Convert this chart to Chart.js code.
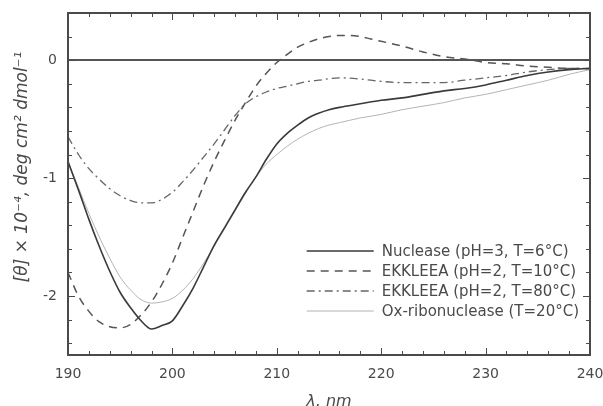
<!DOCTYPE html>
<html>
<head>
<meta charset="utf-8">
<script src="https://cdn.jsdelivr.net/npm/chart.js@4/dist/chart.umd.min.js"></script>
<style>
  html, body { margin: 0; padding: 0; background: #fff; }
  #wrap { width: 603px; height: 406px; }
</style>
</head>
<body>
<div id="wrap"><canvas id="cd"></canvas></div>
<script>
// CD spectra, mean residue ellipticity vs wavelength
const nucleaseWl = [190, 191, 192, 193, 194, 195, 196, 197, 198, 199, 200, 201, 202, 203, 204, 205, 206, 207, 208, 209, 210,
  211, 212, 213, 214, 215, 216, 218, 220, 222, 224, 226, 228, 230, 232, 234, 236, 238, 240];
const nucleaseTheta = [-0.86, -1.1, -1.35, -1.58, -1.79, -1.97, -2.1, -2.21, -2.28, -2.25, -2.21, -2.08, -1.93, -1.75, -1.57,
  -1.42, -1.27, -1.12, -0.99, -0.84, -0.71, -0.62, -0.55, -0.49, -0.45, -0.42, -0.40, -0.37, -0.34, -0.32, -0.29,
  -0.26, -0.24, -0.21, -0.17, -0.13, -0.10, -0.08, -0.07];

const ekk10Wl = [190, 191, 192, 193, 194, 195, 196, 197, 198, 199, 200, 201, 202, 203, 204, 205, 206, 207, 208, 209, 210,
  211, 212, 213, 214, 215, 216, 217, 218, 219, 220, 222, 224, 226, 228, 230, 232, 234, 236, 238, 240];
const ekk10Theta = [-1.80, -2.0, -2.13, -2.22, -2.26, -2.27, -2.24, -2.16, -2.05, -1.90, -1.72, -1.50, -1.28, -1.06, -0.86,
  -0.68, -0.51, -0.36, -0.22, -0.11, -0.02, 0.05, 0.11, 0.15, 0.18, 0.20, 0.21, 0.21, 0.20, 0.18, 0.16, 0.12, 0.07,
  0.03, 0.01, -0.02, -0.03, -0.05, -0.06, -0.07, -0.07];

const ekk80Wl = [190, 191, 192, 193, 194, 195, 196, 197, 198, 199, 200, 201, 202, 203, 204, 205, 206, 207, 208, 209, 210,
  211, 212, 213, 214, 216, 218, 220, 222, 224, 226, 228, 230, 232, 234, 236, 238, 240];
const ekk80Theta = [-0.65, -0.80, -0.92, -1.01, -1.09, -1.15, -1.19, -1.21, -1.21, -1.18, -1.12, -1.03, -0.93, -0.82, -0.71,
  -0.59, -0.47, -0.37, -0.31, -0.27, -0.24, -0.22, -0.20, -0.18, -0.17, -0.15, -0.16, -0.18, -0.19, -0.19, -0.19,
  -0.17, -0.15, -0.13, -0.10, -0.08, -0.07, -0.07];

const oxRiboWl = [190, 191, 192, 193, 194, 195, 196, 197, 198, 199, 200, 201, 202, 203, 204, 205, 206, 207, 208, 209, 210,
  211, 212, 213, 214, 215, 216, 218, 220, 222, 224, 226, 228, 230, 232, 234, 236, 238, 240];
const oxRiboTheta = [-0.86, -1.08, -1.3, -1.5, -1.68, -1.84, -1.95, -2.03, -2.06, -2.05, -2.02, -1.95, -1.85, -1.72, -1.58,
  -1.43, -1.28, -1.13, -0.99, -0.88, -0.80, -0.73, -0.67, -0.62, -0.58, -0.55, -0.53, -0.49, -0.46, -0.42, -0.39,
  -0.36, -0.32, -0.29, -0.25, -0.21, -0.17, -0.12, -0.08];

const seriesLabels = ['Nuclease (pH=3, T=6°C)', 'EKKLEEA (pH=2, T=10°C)', 'EKKLEEA (pH=2, T=80°C)', 'Ox-ribonuclease (T=20°C)'];
const xTickValues = [190, 200, 210, 220, 230, 240];
const yTickValues = [-2, -1, 0];
const yTitle = '[θ] × 10⁻⁴, deg cm² dmol⁻¹';

const FONT = "'DejaVu Sans', sans-serif";
const INK = '#4a4a4a';

function pts(xs, ys) {
  return xs.map((x, i) => ({ x: x, y: ys[i] }));
}

// frame, inward ticks (major + minor) on all four sides
const framePlugin = {
  id: 'frame',
  afterDatasetsDraw(chart) {
    const { ctx, chartArea: a, scales: { x, y } } = chart;
    ctx.save();
    ctx.strokeStyle = INK;
    ctx.lineWidth = 1;
    ctx.beginPath();
    for (let v = 190; v <= 240; v += 2) {
      const px = Math.round(x.getPixelForValue(v)) + 0.5;
      const len = v % 10 === 0 ? 7 : 4;
      ctx.moveTo(px, a.bottom); ctx.lineTo(px, a.bottom - len);
      ctx.moveTo(px, a.top); ctx.lineTo(px, a.top + len);
    }
    for (let k = -12; k <= 2; k++) {
      const v = k / 5;
      const py = Math.round(y.getPixelForValue(v)) + 0.5;
      const len = k % 5 === 0 ? 7 : 4;
      ctx.moveTo(a.left, py); ctx.lineTo(a.left + len, py);
      ctx.moveTo(a.right, py); ctx.lineTo(a.right - len, py);
    }
    ctx.stroke();
    ctx.lineWidth = 2;
    ctx.strokeRect(a.left, a.top, a.right - a.left, a.bottom - a.top);

    // rotated y title, sitting a bit above the plot's middle
    ctx.translate(23, a.top + 154);
    ctx.rotate(-Math.PI / 2);
    ctx.font = 'italic 17px ' + FONT;
    ctx.fillStyle = INK;
    ctx.textAlign = 'center';
    ctx.textBaseline = 'middle';
    ctx.fillText(yTitle, 0, 0);
    ctx.restore();
  }
};

// legend box in the lower right of the plot
const insetLegend = {
  id: 'insetLegend',
  afterDraw(chart) {
    const { ctx, chartArea: a } = chart;
    const ds = chart.data.datasets;
    ctx.save();
    ctx.font = '15px ' + FONT;
    const textW = Math.max(...ds.map(d => ctx.measureText(d.label).width));
    const textX = a.right - 11 - textW;
    const lineX0 = textX - 75, lineX1 = textX - 8;
    const rowH = 20;
    let yy = a.bottom - 44 - rowH * (ds.length - 1);
    ds.forEach(d => {
      ctx.strokeStyle = d.borderColor;
      ctx.lineWidth = d.borderWidth;
      ctx.setLineDash(d.borderDash || []);
      ctx.beginPath();
      ctx.moveTo(lineX0, yy);
      ctx.lineTo(lineX1, yy);
      ctx.stroke();
      ctx.setLineDash([]);
      ctx.fillStyle = INK;
      ctx.textBaseline = 'middle';
      ctx.fillText(d.label, textX, yy + 1);
      yy += rowH;
    });
    ctx.restore();
  }
};

const lineDefaults = { fill: false, pointRadius: 0, tension: 0.3, cubicInterpolationMode: 'monotone' };

new Chart(document.getElementById('cd'), {
  type: 'line',
  data: {
    datasets: [
      Object.assign({ label: seriesLabels[0], data: pts(nucleaseWl, nucleaseTheta),
        borderColor: '#3a3a3a', borderWidth: 1.6 }, lineDefaults),
      Object.assign({ label: seriesLabels[1], data: pts(ekk10Wl, ekk10Theta),
        borderColor: '#555', borderWidth: 1.5, borderDash: [8, 6] }, lineDefaults),
      Object.assign({ label: seriesLabels[2], data: pts(ekk80Wl, ekk80Theta),
        borderColor: '#666', borderWidth: 1.3, borderDash: [8, 4, 2, 4] }, lineDefaults),
      Object.assign({ label: seriesLabels[3], data: pts(oxRiboWl, oxRiboTheta),
        borderColor: '#b4b4b4', borderWidth: 1 }, lineDefaults)
    ]
  },
  options: {
    responsive: true,
    maintainAspectRatio: false,
    animation: false,
    layout: { padding: { left: 0, right: 13, top: 13, bottom: 0 } },
    scales: {
      x: {
        type: 'linear',
        min: 190,
        max: 240,
        afterBuildTicks: s => { s.ticks = xTickValues.map(v => ({ value: v })); },
        afterFit: s => { s.height = 51; s.paddingLeft = 0; s.paddingRight = 0; },
        ticks: { color: INK, font: { size: 14, family: FONT }, padding: 11, maxRotation: 0 },
        grid: { display: false, drawTicks: false },
        border: { display: false },
        title: {
          display: true,
          text: 'λ, nm',
          color: INK,
          font: { size: 16, family: FONT, style: 'italic', lineHeight: 1 },
          padding: { top: 0, bottom: -4 }
        }
      },
      y: {
        type: 'linear',
        min: -2.5,
        max: 0.4,
        afterBuildTicks: s => { s.ticks = yTickValues.map(v => ({ value: v })); },
        afterFit: s => { s.width = 68; s.paddingTop = 0; s.paddingBottom = 0; },
        ticks: { color: INK, font: { size: 14, family: FONT }, padding: 11 },
        grid: {
          drawTicks: false,
          color: c => (c.tick && c.tick.value === 0 ? '#555' : 'transparent'),
          lineWidth: 2
        },
        border: { display: false }
      }
    },
    plugins: {
      legend: { display: false },
      tooltip: { enabled: false }
    }
  },
  plugins: [framePlugin, insetLegend]
});
</script>
</body>
</html>
